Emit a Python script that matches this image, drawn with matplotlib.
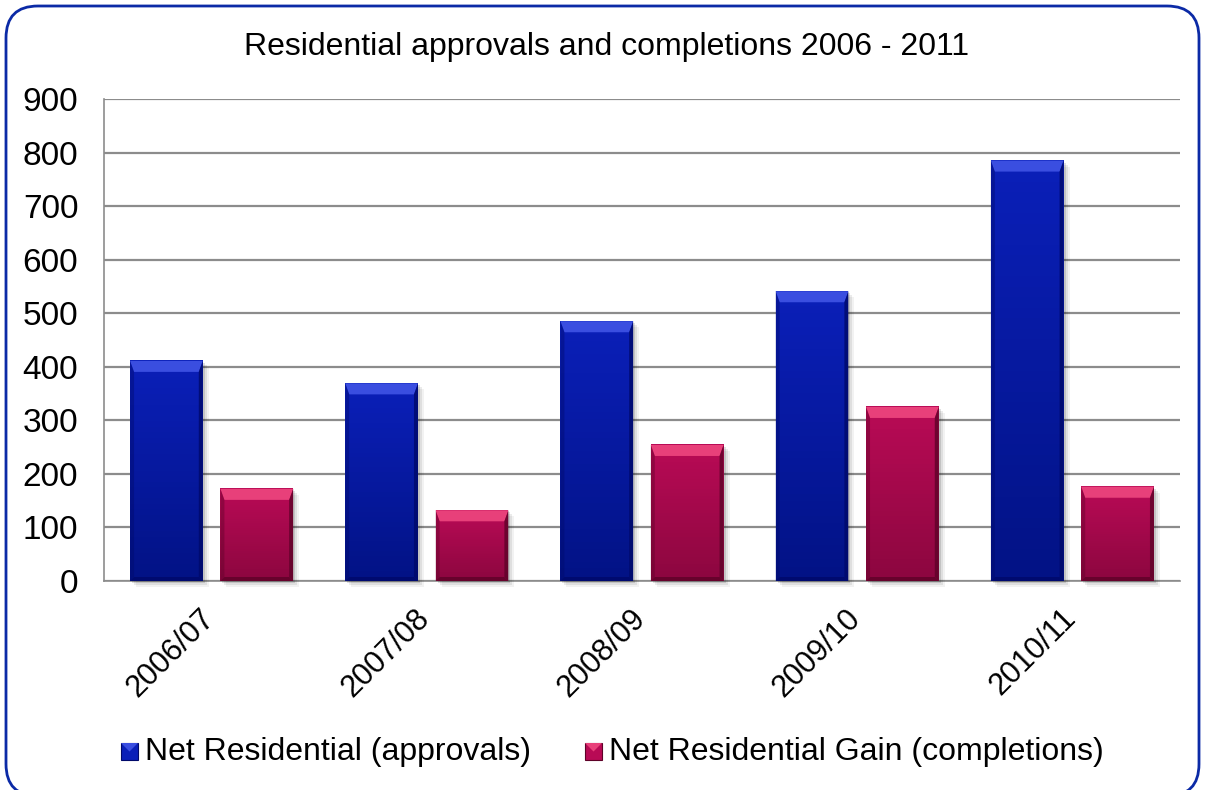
import numpy as np
import matplotlib
matplotlib.use("Agg")
import matplotlib.pyplot as plt
from matplotlib.patches import Polygon, Rectangle, FancyBboxPatch
from matplotlib.transforms import IdentityTransform, ScaledTranslation
from matplotlib.colors import LinearSegmentedColormap

plt.rcParams['font.family'] = ['Liberation Sans', 'DejaVu Sans']

# Approvals vs completions per financial year
years = ['2006/07', '2007/08', '2008/09', '2009/10', '2010/11']
approvals = [411, 369, 485, 541, 785]
completions = [172, 132, 254, 325, 176]
series_names = ['Net Residential (approvals)', 'Net Residential Gain (completions)']

# (top colour, bottom colour, bevel light, bevel dark)
blue = ('#0a1fb8', '#021285', '#3a4ee0', '#00096a')
red = ('#b80a55', '#8c063f', '#e8407a', '#5e0228')

fig = plt.figure(figsize=(12.05, 7.9), dpi=100)
ax = fig.add_axes([104 / 1205, 1 - 581 / 790, (1180 - 104) / 1205, (581 - 99) / 790])

x = np.arange(len(years))
w = 0.338
off = 0.21
b1 = ax.bar(x - off, approvals, w, color=blue[0], zorder=3)
b2 = ax.bar(x + off, completions, w, color=red[0], zorder=3)

ax.set_xlim(-0.5, len(years) - 0.5)
ax.set_ylim(0, 900)
ax.set_yticks(range(0, 901, 100))
ax.yaxis.grid(True, color='#8c8c8c', linewidth=1.6, zorder=0)
ax.set_axisbelow(True)
for s in ['top', 'right']:
    ax.spines[s].set_visible(False)
for s in ['left', 'bottom']:
    ax.spines[s].set_color('#8c8c8c')
    ax.spines[s].set_linewidth(1.2)
ax.tick_params(axis='y', length=0, labelsize=24, pad=18.5)
ax.set_xticks(x)
ax.set_xticklabels(years, rotation=45, ha='right', va='top', rotation_mode='anchor')
ax.tick_params(axis='x', length=0, labelsize=22, pad=22)
shift = ScaledTranslation(-12 / 100, 8 / 100, fig.dpi_scale_trans)
for lbl in ax.get_xticklabels():
    lbl.set_transform(lbl.get_transform() + shift)


def shade_bar(rect, cols):
    # gradient fill, bevelled edges and soft shadow drawn in pixel space
    (x0, y0), (x1, y1) = ax.transData.transform(
        [(rect.get_x(), rect.get_y()), (rect.get_x() + rect.get_width(), rect.get_y() + rect.get_height())])
    ident = IdentityTransform()
    for k, a in [(6, 0.05), (4, 0.08), (2, 0.12)]:
        fig.add_artist(Rectangle((x0 + k, y0 - k), x1 - x0, y1 - y0, facecolor='black',
                                 alpha=a, edgecolor='none', transform=ident, zorder=1))
    rect.set_visible(False)
    cmap = LinearSegmentedColormap.from_list('g', [cols[1], cols[0]])
    # vertical gradient by stacked strips
    n = 40
    h = (y1 - y0) / n
    for i in range(n):
        fig.add_artist(Rectangle((x0, y0 + i * h), x1 - x0, h + 0.6,
                                 facecolor=cmap(i / (n - 1)), edgecolor='none',
                                 transform=ident, zorder=2.1))
    bt, bs = 11, 4
    top = Polygon([(x0, y1), (x1, y1), (x1 - bs, y1 - bt), (x0 + bs, y1 - bt)],
                  facecolor=cols[2], edgecolor='none', transform=ident, zorder=2.2)
    right = Polygon([(x1, y1), (x1, y0), (x1 - bs, y0 + bs), (x1 - bs, y1 - bt)],
                    facecolor=cols[3], edgecolor='none', alpha=0.8, transform=ident, zorder=2.2)
    left = Polygon([(x0, y1), (x0, y0), (x0 + bs, y0 + bs), (x0 + bs, y1 - bt)],
                   facecolor=cols[3], edgecolor='none', alpha=0.4, transform=ident, zorder=2.2)
    bottom = Polygon([(x0, y0), (x1, y0), (x1 - bs, y0 + bs), (x0 + bs, y0 + bs)],
                     facecolor=cols[3], edgecolor='none', alpha=0.8, transform=ident, zorder=2.2)
    for p in (top, right, left, bottom):
        fig.add_artist(p)


for r in b1:
    shade_bar(r, blue)
for r in b2:
    shade_bar(r, red)

fig.text(607 / 1205, 1 - 47 / 790, 'Residential approvals and completions 2006 - 2011',
         ha='center', va='center', fontsize=23)

# legend drawn by hand so the bevelled markers match the bars
ident = IdentityTransform()
for (mx, name, cols) in [(121, series_names[0], blue), (585, series_names[1], red)]:
    my = 790 - 760
    fig.add_artist(Rectangle((mx, my), 17, 17, facecolor=cols[0], edgecolor=cols[3],
                             linewidth=0.8, transform=ident))
    fig.add_artist(Polygon([(mx, my + 17), (mx + 17, my + 17), (mx + 8.5, my + 8.5)],
                           facecolor=cols[2], edgecolor='none', transform=ident))
    fig.text((mx + 24) / 1205, 1 - 752 / 790, name, ha='left', va='center', fontsize=23)

frame = FancyBboxPatch((6, -6), 1193, 790, boxstyle='round,pad=0,rounding_size=32',
                       facecolor='none', edgecolor='#0b2aa6', linewidth=2, transform=ident)
fig.add_artist(frame)

fig.savefig('out.png', dpi=100)
